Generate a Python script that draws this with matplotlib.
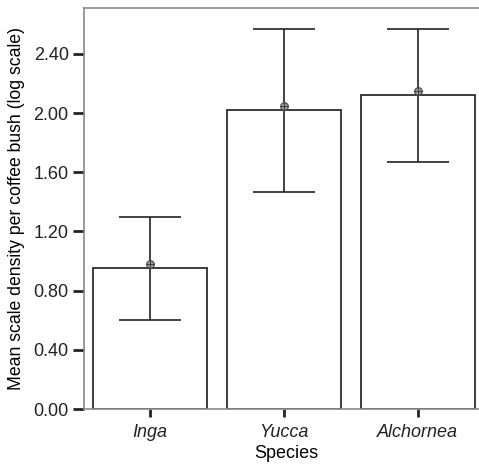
import matplotlib
matplotlib.use("Agg")
import matplotlib.pyplot as plt

species = ["Inga", "Yucca", "Alchornea"]
bar_height = [0.955, 2.02, 2.12]
mean_point = [0.98, 2.05, 2.15]
err_low = [0.60, 1.465, 1.67]
err_high = [1.30, 2.57, 2.57]
yticks = [0.0, 0.4, 0.8, 1.2, 1.6, 2.0, 2.4]

plt.rcParams['font.family'] = ['Liberation Sans', 'DejaVu Sans']
plt.rcParams['text.color'] = "#222222"

fig = plt.figure(figsize=(4.79, 4.65), dpi=100)
ax = fig.add_axes([0.1754, 0.1204, 0.845, 0.8624])

x = list(range(len(species)))
ax.bar(x, bar_height, width=0.854, color="white", edgecolor="#1a1a1a", linewidth=1.2, zorder=2)

lower = [m - lo for m, lo in zip(mean_point, err_low)]
upper = [hi - m for m, hi in zip(mean_point, err_high)]
ax.errorbar(x, mean_point, yerr=[lower, upper], fmt="none", ecolor="#222222",
            elinewidth=1.2, capsize=22, capthick=1.2, zorder=3)
ax.plot(x, mean_point, "o", ms=5.5, mfc="#9a9a9a", mec="#444444", mew=0.8, zorder=4)
ax.plot(x, mean_point, "+", ms=5.5, mec="#333333", mew=0.6, zorder=5)

ax.set_xlim(-0.494, 2.53)
ax.set_ylim(0, 2.71)
ax.set_yticks(yticks)
ax.set_yticklabels([f"{v:.2f}" for v in yticks])
ax.set_xticks(x)
ax.set_xticklabels(species, style="italic")

for s in ax.spines.values():
    s.set_color("#8a8a8a")
    s.set_linewidth(1.2)
ax.tick_params(axis="y", length=8, width=2, color="#222222", labelcolor="#222222", labelsize=13, pad=3)
ax.tick_params(axis="x", length=6, width=2, color="#222222", labelcolor="#222222", labelsize=13, pad=5)

ax.set_xlabel("Species", fontsize=13, labelpad=3)
ax.set_ylabel("Mean scale density per coffee bush (log scale)", fontsize=12.7, labelpad=6)

fig.savefig("out.png", dpi=100)
